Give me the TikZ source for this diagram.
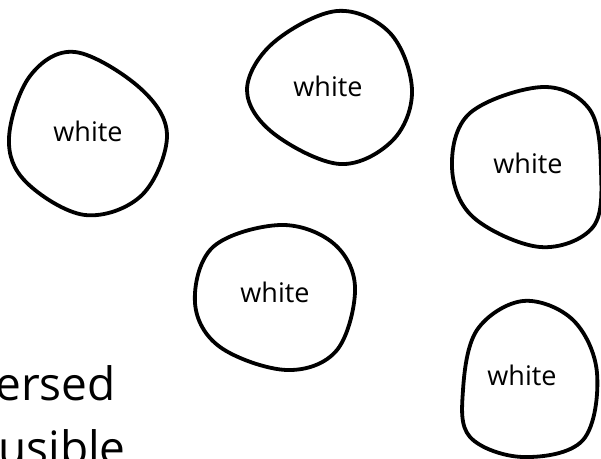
\documentclass[tikz,border=0pt]{standalone}
\usepackage{fontspec}
\setmainfont{Open Sans}
\usepackage{tikz}
\tikzset{
  blob/.style={draw, line width=3.8pt, line join=round},
  blobtext/.style={font=\fontsize{27}{32}\selectfont},
  bigtext/.style={font=\fontsize{46}{56}\selectfont, anchor=base west, inner sep=0pt}
}

\begin{document}
\begin{tikzpicture}[x=1pt, y=-1pt]
    \useasboundingbox (0,0) rectangle (601,458);
    \clip (0,0) rectangle (601,458);
    % labels
    \node[blobtext] (w1) at (88,131) {white};
    \node[blobtext] (w2) at (328,86) {white};
    \node[blobtext] (w3) at (528,163) {white};
    \node[blobtext] (w4) at (275,292) {white};
    \node[blobtext] (w5) at (522,375) {white};
    % outlines
    \draw[blob] plot[smooth cycle, tension=0.6] coordinates {
      (75,52) (140,88) (167,135) (142,195) (85,215) (26,182) (9,138) (30,76)};
    \draw[blob] plot[smooth cycle, tension=0.6] coordinates {
      (337,11) (390,33) (412,90) (393,140) (340,164) (273,133) (247,90) (273,43)};
    \draw[blob] plot[smooth cycle, tension=0.6] coordinates {
      (543,87) (590,110) (601,170) (593,227) (540,247) (473,217) (452,167) (470,113)};
    \draw[blob] plot[smooth cycle, tension=0.6] coordinates {
      (280,225) (333,243) (355,287) (337,350) (287,370) (220,347) (195,303) (213,247)};
    \draw[blob] plot[smooth cycle, tension=0.6] coordinates {
      (523,301) (573,320) (597,373) (583,440) (523,457) (470,437) (463,390) (477,330)};
    % cut text
    \node[bigtext] (ersed) at (-5,400) {ersed};
    \node[bigtext] (usible) at (-2,464) {usible};
\end{tikzpicture}
\end{document}
